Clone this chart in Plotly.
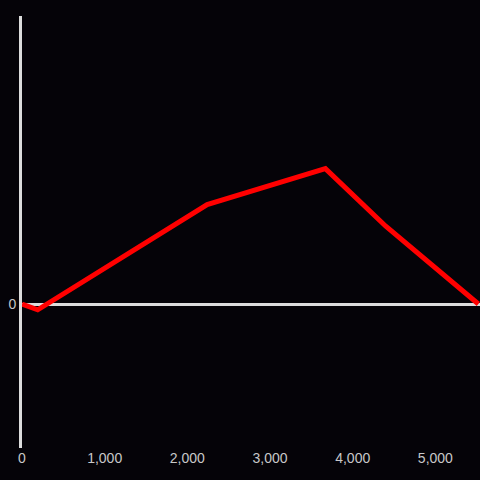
import plotly.graph_objects as go

x_vals = [0, 190, 2240, 3670, 4400, 5520]
y_vals = [0, -40, 690, 940, 540, 0]
x_ticks = [0, 1000, 2000, 3000, 4000, 5000]
x_labels = ["0", "1,000", "2,000", "3,000", "4,000", "5,000"]

bg = "#050308"
axis_col = "#dcdcdc"

fig = go.Figure()
fig.add_trace(go.Scatter(x=x_vals, y=y_vals, mode="lines",
                         line=dict(color="#ff0000", width=5), hoverinfo="skip"))
fig.update_layout(
    width=480, height=480,
    paper_bgcolor=bg, plot_bgcolor=bg,
    margin=dict(l=22, r=0, t=16, b=32),
    showlegend=False,
    font=dict(family="Liberation Sans, Arial, sans-serif", size=14, color="#c8c8c8"),
)
fig.update_xaxes(range=[0, 5540], tickvals=x_ticks, ticktext=x_labels,
                 showgrid=False, zeroline=False, showline=False, ticks="")
fig.update_yaxes(range=[-1000, 2000], tickvals=[0], ticktext=["0"],
                 showgrid=False, zeroline=True, zerolinecolor=axis_col, zerolinewidth=3,
                 showline=True, linecolor=axis_col, linewidth=3, ticks="")
fig.write_html("out.html", config={"displayModeBar": False},
               post_script="document.body.style.margin='0';document.body.style.background='%s';" % bg)
